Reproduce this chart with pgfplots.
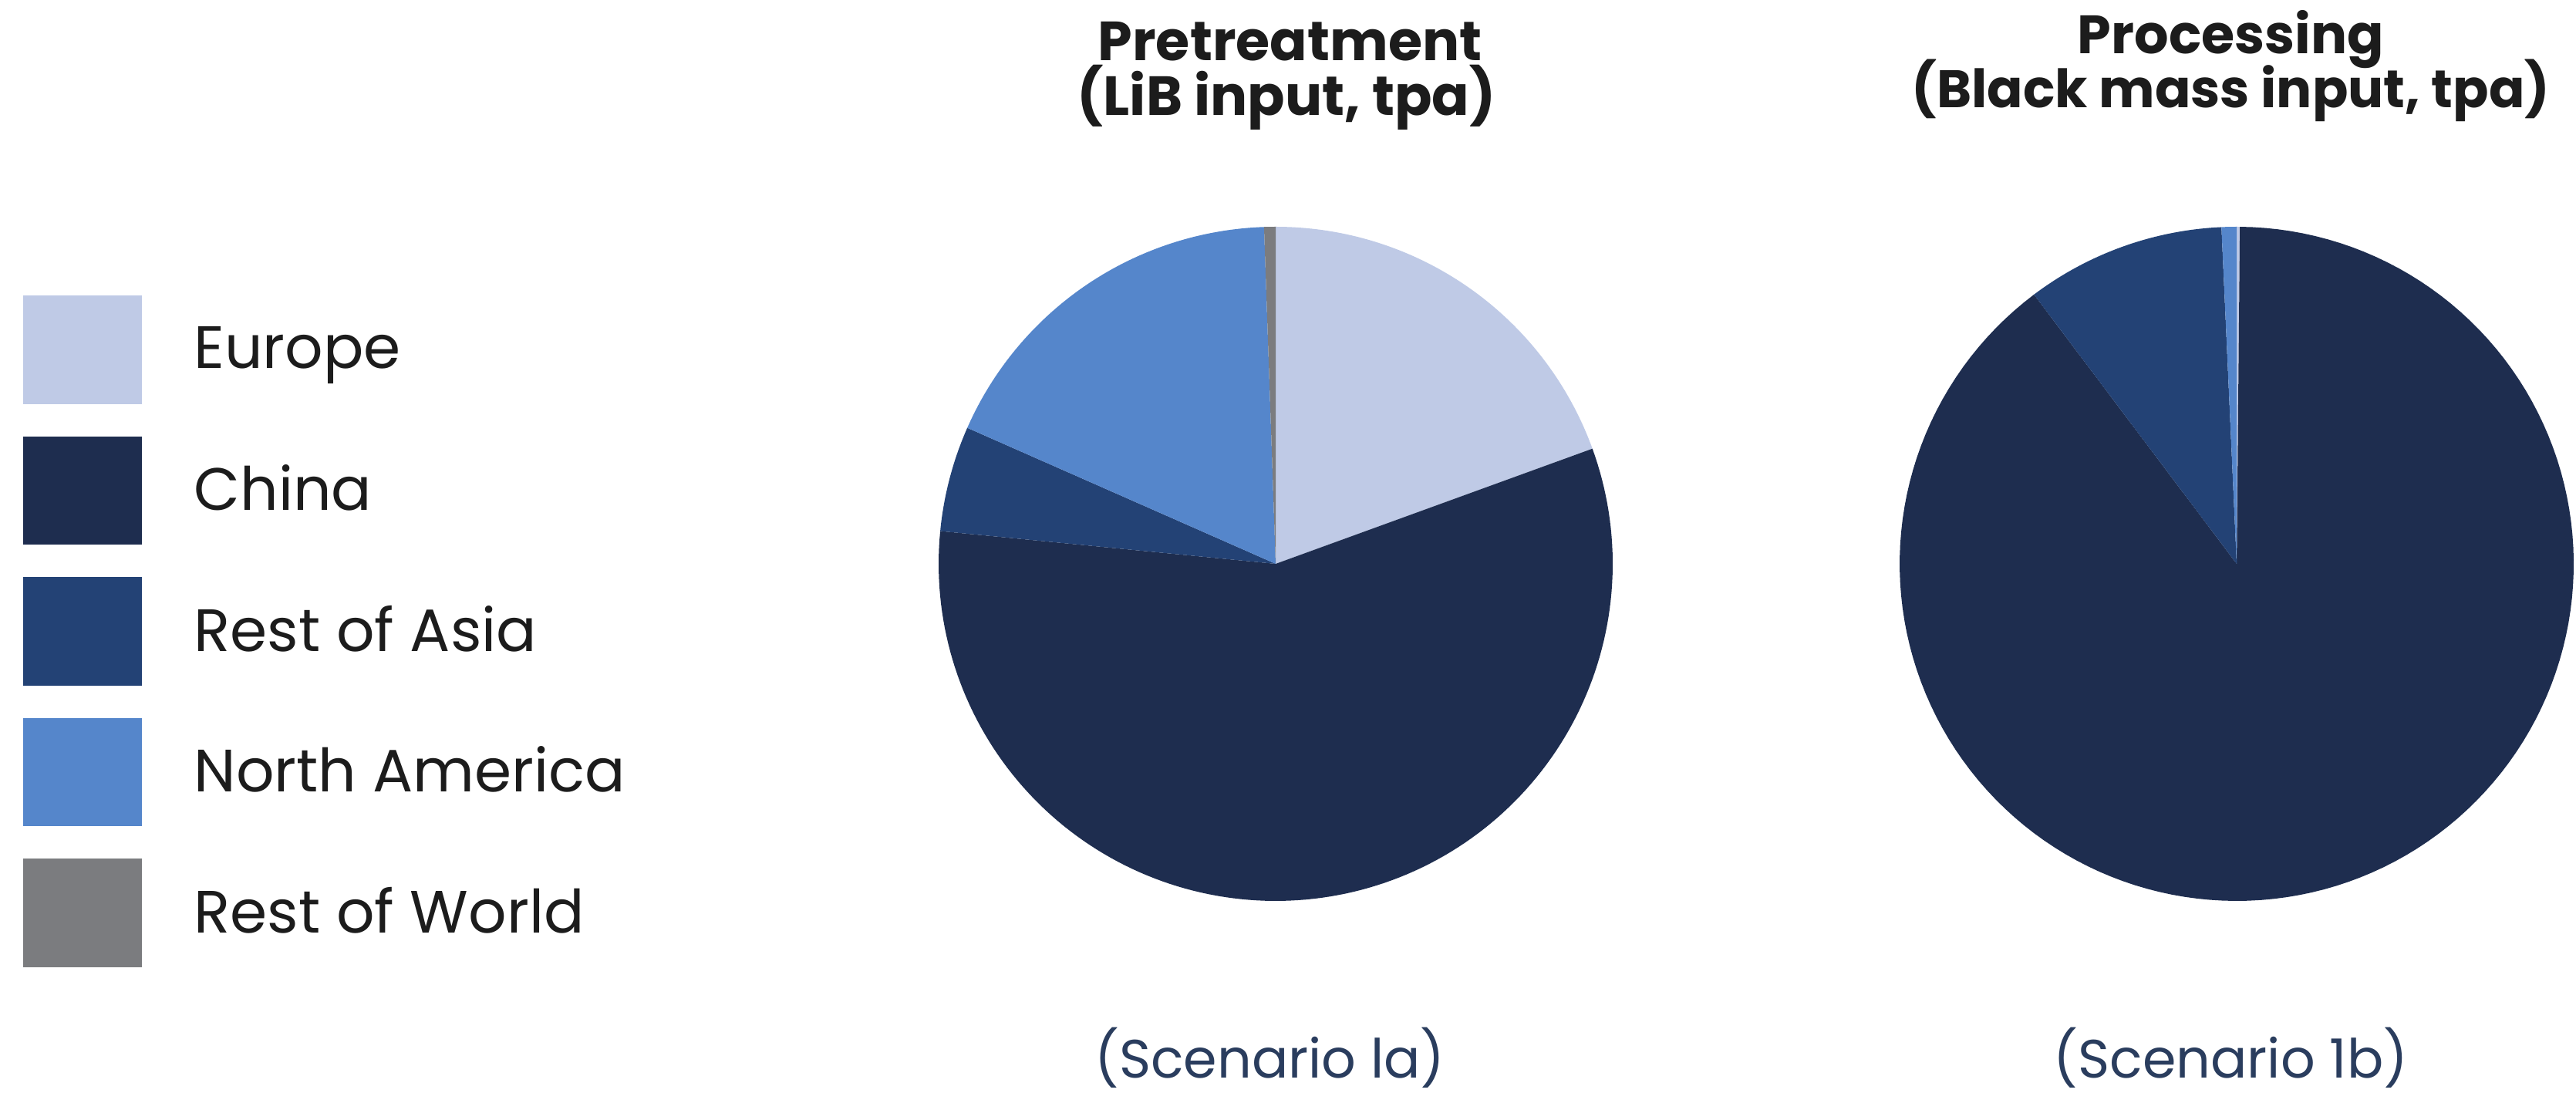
\documentclass[border=0pt]{standalone}
\usepackage{fontspec}
\setmainfont{Poppins}
\usepackage{pgfplots}
\pgfplotsset{compat=1.18}
\usepackage{pgfplotstable}

\definecolor{cEurope}{HTML}{BFCAE6}
\definecolor{cChina}{HTML}{1E2D4F}
\definecolor{cAsia}{HTML}{234275}
\definecolor{cNA}{HTML}{5586CB}
\definecolor{cRoW}{HTML}{7B7C7F}
\definecolor{cScen}{HTML}{2A3D5E}
\definecolor{cTitle}{HTML}{1C1C1C}

% shares in percent, slices clockwise from 12 o'clock
\pgfplotstableread{
region share
Europe 19.45
China 57.10
RestAsia 5.06
NorthAmerica 17.84
RestWorld 0.55
}\pretreat
\pgfplotstableread{
region share
Europe 0.15
China 89.58
RestAsia 9.55
NorthAmerica 0.72
RestWorld 0.00
}\processing

% cumulative boundary angles (degrees) -> \<prefix>b0 ... \<prefix>b5
\newcommand\cumangles[2]{%
  \gdef\acc{0}%
  \expandafter\gdef\csname #2b0\endcsname{0}%
  \foreach \i [evaluate=\i as \j using int(\i+1)] in {0,...,4}{%
    \pgfplotstablegetelem{\i}{share}\of#1%
    \pgfmathsetmacro\tmp{\acc+3.6*\pgfplotsretval}%
    \global\let\acc\tmp
    \expandafter\xdef\csname #2b\j\endcsname{\tmp}%
  }}
\cumangles{\pretreat}{P}
\cumangles{\processing}{Q}

\newcommand\pieslice[4]{% prefix, start index, end index, colour
  \edef\temp{\noexpand\addplot[fill=#4, draw=none, domain=\csname #1b#2\endcsname:\csname #1b#3\endcsname, samples=150, variable=\noexpand\t]}%
  \temp ({sin(\t)},{cos(\t)}) -- (axis cs:0,0) -- cycle;}

\begin{document}
\begin{tikzpicture}
\useasboundingbox (0,0) rectangle (668pt,283.3pt);

\begin{axis}[
  at={(330.8pt,137.1pt)}, anchor=origin,
  scale only axis, width=174.8pt, height=174.8pt,
  xmin=-1, xmax=1, ymin=-1, ymax=1,
  hide axis,
  legend image code/.code={\fill[#1] (0pt,-14.05pt) rectangle (30.7pt,14.05pt);},
  legend cell align=left,
  legend style={at={(-1.358,0.8976)}, anchor=north west, draw=none, fill=none,
    inner sep=0pt, outer sep=0pt, row sep=8.4pt, column sep=13.6pt,
    nodes={inner sep=0pt, outer sep=0pt},
    column 2/.style={nodes={text height=10.8pt, text depth=0pt}},
    cells={anchor=west},
    font=\fontsize{15.5}{18}\selectfont, text=cTitle},
]
\pieslice{P}{0}{1}{cEurope}\addlegendentry{Europe}
\pieslice{P}{1}{2}{cChina}\addlegendentry{China}
\pieslice{P}{2}{3}{cAsia}\addlegendentry{Rest of Asia}
\pieslice{P}{3}{4}{cNA}\addlegendentry{North America}
\pieslice{P}{4}{5}{cRoW}\addlegendentry{Rest of World}
\end{axis}

\begin{axis}[
  at={(580.0pt,137.1pt)}, anchor=origin,
  scale only axis, width=174.8pt, height=174.8pt,
  xmin=-1, xmax=1, ymin=-1, ymax=1,
  hide axis,
]
\pieslice{Q}{0}{1}{cEurope}
\pieslice{Q}{1}{2}{cChina}
\pieslice{Q}{2}{3}{cAsia}
\pieslice{Q}{3}{4}{cNA}
\end{axis}

\begin{scope}[every node/.style={inner sep=0pt, anchor=base, text=cTitle}]
\node[font=\fontsize{14.3}{16}\selectfont\bfseries] at (334.5pt,267.6pt) {Pretreatment};
\node[font=\fontsize{14.3}{16}\selectfont\bfseries] at (333.6pt,253.3pt) {(LiB input, tpa)};
\node[font=\fontsize{14}{16}\selectfont\bfseries] at (578.5pt,269.3pt) {Processing};
\node[font=\fontsize{13.7}{16}\selectfont\bfseries] at (578.5pt,255.3pt) {(Black mass input, tpa)};
\node[font=\fontsize{14}{16}\selectfont, text=cScen] at (329.3pt,3.9pt) {(Scenario la)};
\node[font=\fontsize{14}{16}\selectfont, text=cScen] at (578.5pt,3.9pt) {(Scenario 1b)};
\end{scope}
\end{tikzpicture}
\end{document}
